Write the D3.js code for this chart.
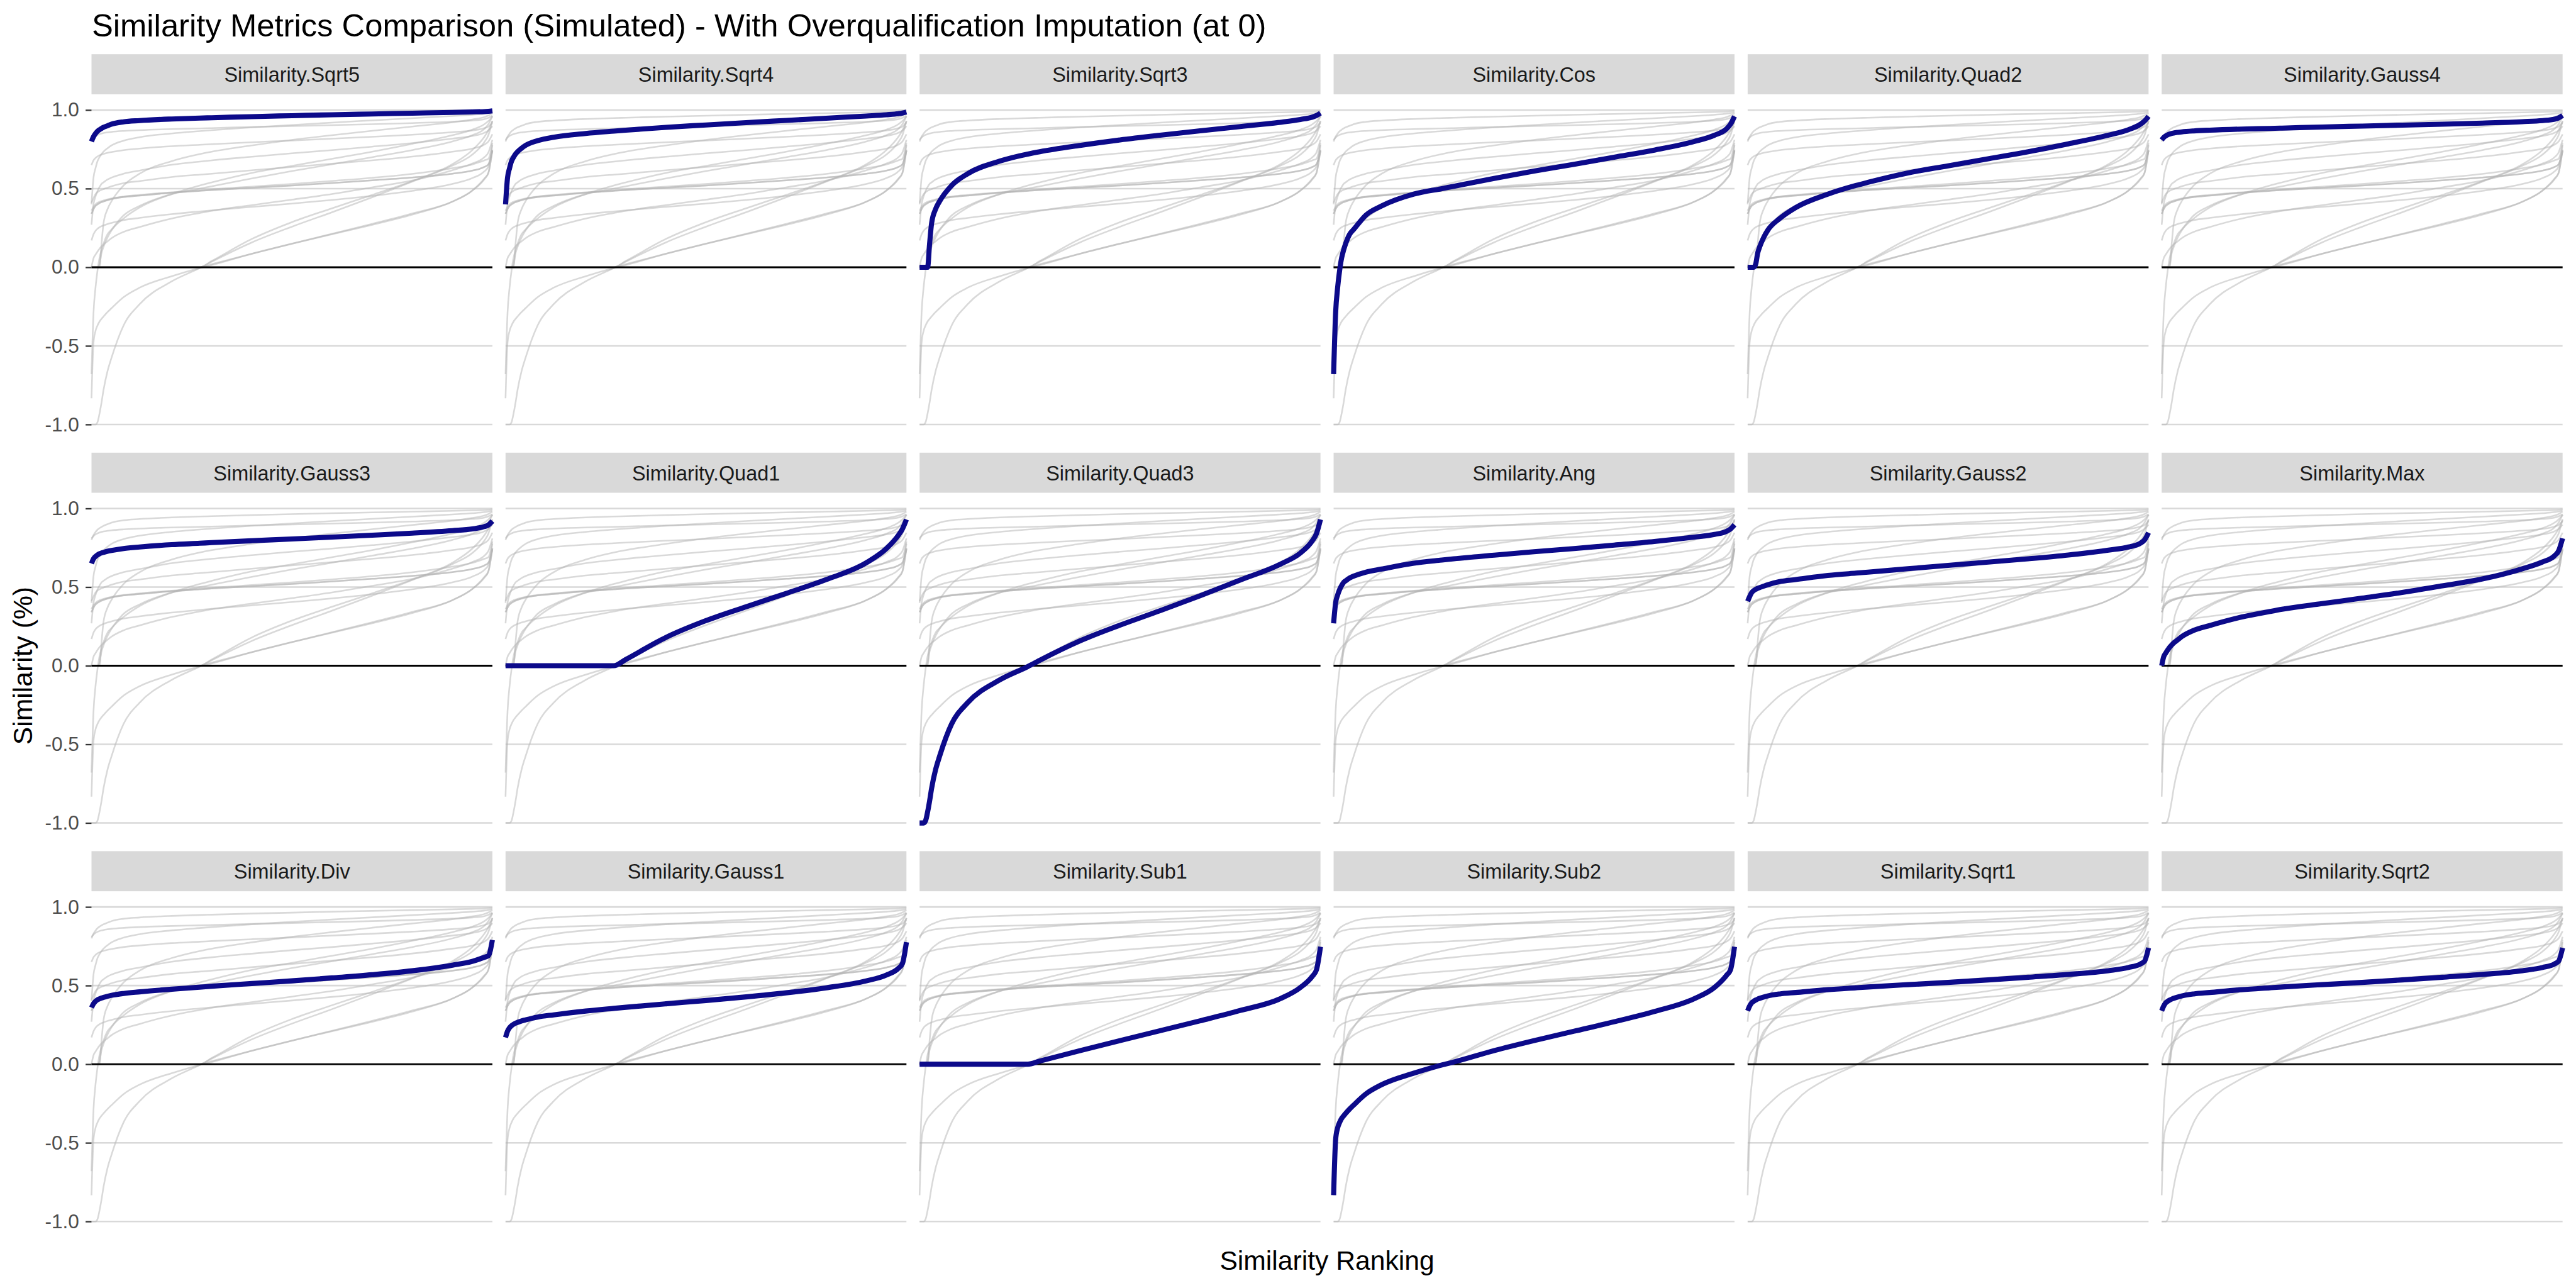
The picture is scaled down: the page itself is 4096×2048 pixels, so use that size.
<!DOCTYPE html>
<html><head><meta charset="utf-8">
<script src="https://cdn.jsdelivr.net/npm/d3@7"></script>
<style>html,body{margin:0;padding:0;background:#fff;} svg{display:block;}</style>
</head><body>
<svg id="chart" width="4096" height="2048"></svg>
<script>
// ---------- data ----------
const rankPct = [0,0.5,1,1.5,2,2.5,3,4,5,8,12,20,27,30,40,50,60,70,80,90,95,98,99,100];

const panelOrder = ["Similarity.Sqrt5","Similarity.Sqrt4","Similarity.Sqrt3","Similarity.Cos","Similarity.Quad2","Similarity.Gauss4",
                    "Similarity.Gauss3","Similarity.Quad1","Similarity.Quad3","Similarity.Ang","Similarity.Gauss2","Similarity.Max",
                    "Similarity.Div","Similarity.Gauss1","Similarity.Sub1","Similarity.Sub2","Similarity.Sqrt1","Similarity.Sqrt2"];

const sqrt5  = [0.80,0.83,0.85,0.865,0.875,0.883,0.89,0.90,0.91,0.925,0.933,0.943,0.949,0.951,0.958,0.964,0.970,0.975,0.980,0.985,0.988,0.990,0.992,0.995];
const sqrt4  = [0.40,0.57,0.63,0.675,0.70,0.72,0.735,0.757,0.775,0.805,0.827,0.851,0.866,0.872,0.89,0.905,0.92,0.934,0.948,0.962,0.97,0.977,0.981,0.987];
const sqrt3  = [0,0,0,0,0,0.15,0.28,0.37,0.42,0.52,0.595,0.675,0.72,0.735,0.775,0.81,0.84,0.868,0.895,0.922,0.94,0.955,0.965,0.98];
const cos    = [-0.68,-0.29,-0.13,-0.02,0.06,0.11,0.15,0.21,0.24,0.33,0.39,0.465,0.50,0.515,0.565,0.612,0.655,0.70,0.745,0.80,0.84,0.88,0.91,0.96];
const quad2  = [0,0,0,0,0.02,0.09,0.13,0.19,0.235,0.31,0.38,0.465,0.52,0.54,0.60,0.645,0.69,0.735,0.785,0.84,0.875,0.91,0.93,0.96];
const gauss4 = [0.81,0.825,0.835,0.842,0.847,0.851,0.854,0.858,0.861,0.867,0.872,0.879,0.883,0.885,0.892,0.898,0.904,0.91,0.917,0.926,0.933,0.942,0.95,0.965];
const gauss3 = [0.65,0.68,0.695,0.705,0.712,0.717,0.721,0.728,0.733,0.745,0.755,0.77,0.779,0.783,0.795,0.806,0.818,0.83,0.843,0.859,0.87,0.885,0.895,0.92];
const quad1  = [0,0,0,0,0,0,0,0,0,0,0,0,0,0.04,0.18,0.287,0.375,0.46,0.548,0.655,0.745,0.83,0.87,0.93];
const quad3  = [-1,-1,-1,-0.985,-0.93,-0.86,-0.78,-0.66,-0.575,-0.37,-0.235,-0.09,-0.005,0.035,0.158,0.258,0.35,0.445,0.545,0.646,0.717,0.796,0.84,0.93];
const ang    = [0.27,0.40,0.45,0.485,0.51,0.53,0.54,0.558,0.57,0.595,0.615,0.652,0.672,0.68,0.703,0.725,0.745,0.767,0.79,0.818,0.835,0.855,0.87,0.897];
const gauss2 = [0.41,0.44,0.465,0.478,0.486,0.492,0.497,0.506,0.515,0.535,0.548,0.574,0.589,0.595,0.617,0.638,0.659,0.68,0.704,0.735,0.755,0.78,0.80,0.846];
const maxSim = [0,0.057,0.08,0.10,0.118,0.132,0.145,0.165,0.185,0.225,0.256,0.31,0.345,0.359,0.395,0.43,0.466,0.508,0.552,0.617,0.66,0.70,0.73,0.81];
const div    = [0.36,0.385,0.40,0.41,0.416,0.421,0.425,0.432,0.438,0.45,0.46,0.477,0.49,0.496,0.513,0.53,0.549,0.569,0.594,0.63,0.654,0.68,0.69,0.79];
const gauss1 = [0.17,0.21,0.232,0.245,0.254,0.261,0.266,0.275,0.282,0.30,0.314,0.338,0.355,0.362,0.384,0.405,0.428,0.454,0.486,0.53,0.567,0.61,0.64,0.776];
const sub1   = [0,0,0,0,0,0,0,0,0,0,0,0,0,0.02,0.086,0.15,0.213,0.276,0.342,0.417,0.488,0.56,0.60,0.747];
const sub2   = [-0.833,-0.48,-0.405,-0.37,-0.345,-0.328,-0.313,-0.285,-0.26,-0.19,-0.13,-0.057,-0.005,0.014,0.086,0.15,0.21,0.27,0.335,0.417,0.488,0.565,0.60,0.747];
const sqrt1  = [0.34,0.37,0.39,0.40,0.408,0.414,0.419,0.427,0.434,0.447,0.456,0.474,0.486,0.491,0.506,0.52,0.536,0.553,0.571,0.595,0.615,0.638,0.655,0.74];
const sqrt2  = [0.34,0.37,0.39,0.40,0.408,0.414,0.419,0.427,0.434,0.447,0.456,0.474,0.486,0.491,0.506,0.52,0.536,0.553,0.571,0.595,0.615,0.638,0.655,0.74];

const yTicks = [-1, -0.5, 0, 0.5, 1];
const yTickLabels = ["-1.0","-0.5","0.0","0.5","1.0"];
const titleText = "Similarity Metrics Comparison (Simulated) - With Overqualification Imputation (at 0)";
const xTitleText = "Similarity Ranking";
const yTitleText = "Similarity (%)";

const seriesValues = {
  "Similarity.Sqrt5": sqrt5, "Similarity.Sqrt4": sqrt4, "Similarity.Sqrt3": sqrt3, "Similarity.Cos": cos,
  "Similarity.Quad2": quad2, "Similarity.Gauss4": gauss4, "Similarity.Gauss3": gauss3, "Similarity.Quad1": quad1,
  "Similarity.Quad3": quad3, "Similarity.Ang": ang, "Similarity.Gauss2": gauss2, "Similarity.Max": maxSim,
  "Similarity.Div": div, "Similarity.Gauss1": gauss1, "Similarity.Sub1": sub1, "Similarity.Sub2": sub2,
  "Similarity.Sqrt1": sqrt1, "Similarity.Sqrt2": sqrt2
};
const series = panelOrder.map(name => ({
  name, points: rankPct.map((r, i) => ({ r, v: seriesValues[name][i] }))
}));

// ---------- layout (reference px, scaled by S) ----------
const S = 4096 / 4800;
const FONT = "'Liberation Sans', Arial, Helvetica, sans-serif";
const nCols = 6;
const colLeft0 = 170.5, colPitch = 771.5, panelW = 747;
const stripTop0 = 101, rowPitch = 742.5, stripH = 74.7;
const panelTop0 = 175.7, panelH = 644.6;

const svg = d3.select("#chart");
svg.append("rect").attr("width", 4096).attr("height", 2048).attr("fill", "#fff");
const root = svg.append("g").attr("transform", `scale(${S})`);

const x = d3.scaleLinear().domain([0, 100]).range([0, panelW]);
const y = d3.scaleLinear().domain([-1.1, 1.1]).range([panelH, 0]);
const line = d3.line().x(d => x(d.r)).y(d => y(d.v)).curve(d3.curveMonotoneX);

// title
root.append("text").attr("x", 171).attr("y", 68)
  .attr("font-family", FONT).attr("font-size", 59.5).attr("fill", "#000")
  .text(titleText);

panelOrder.forEach((name, idx) => {
  const c = idx % nCols, r = Math.floor(idx / nCols);
  const px = colLeft0 + c * colPitch;
  const stripY = stripTop0 + r * rowPitch;
  const py = panelTop0 + r * rowPitch;

  // strip
  root.append("rect").attr("x", px).attr("y", stripY).attr("width", panelW).attr("height", stripH)
    .attr("fill", "#d9d9d9");
  root.append("text").attr("x", px + panelW / 2).attr("y", stripY + 51.5)
    .attr("text-anchor", "middle").attr("font-family", FONT).attr("font-size", 38).attr("fill", "#1a1a1a")
    .text(name);

  const g = root.append("g").attr("transform", `translate(${px},${py})`);

  // grid
  g.append("g").selectAll("line").data(yTicks).join("line")
    .attr("x1", 0).attr("x2", panelW).attr("y1", d => y(d)).attr("y2", d => y(d))
    .attr("stroke", "#d9d9d9").attr("stroke-width", 3);

  // all series in grey
  g.append("g").selectAll("path").data(series).join("path")
    .attr("d", d => line(d.points)).attr("fill", "none")
    .attr("stroke", "#b3b3b3").attr("stroke-opacity", 0.5).attr("stroke-width", 3);

  // zero line
  g.append("line").attr("x1", 0).attr("x2", panelW).attr("y1", y(0)).attr("y2", y(0))
    .attr("stroke", "#000").attr("stroke-width", 3.4);

  // highlighted series
  const hs = series[idx];
  g.append("path").attr("d", line(hs.points)).attr("fill", "none")
    .attr("stroke", "#0c0a8a").attr("stroke-width", 9.5);

  // y axis on first column
  if (c === 0) {
    const ax = g.append("g").call(
      d3.axisLeft(y).tickValues(yTicks).tickSize(11).tickPadding(12)
        .tickFormat((d, i) => yTickLabels[i]));
    ax.select(".domain").remove();
    ax.selectAll(".tick line").attr("stroke", "#333333").attr("stroke-width", 2.7);
    ax.selectAll(".tick text").attr("fill", "#4d4d4d").attr("font-size", 37).attr("font-family", FONT);
  }
});

// axis titles
root.append("text").attr("x", colLeft0 + ((nCols - 1) * colPitch + panelW) / 2).attr("y", 2366)
  .attr("text-anchor", "middle").attr("font-family", FONT).attr("font-size", 50).attr("fill", "#000")
  .text(xTitleText);
root.append("text").attr("transform", `translate(60,${panelTop0 + (2 * rowPitch + panelH) / 2}) rotate(-90)`)
  .attr("text-anchor", "middle").attr("font-family", FONT).attr("font-size", 50).attr("fill", "#000")
  .text(yTitleText);
</script>
</body></html>
